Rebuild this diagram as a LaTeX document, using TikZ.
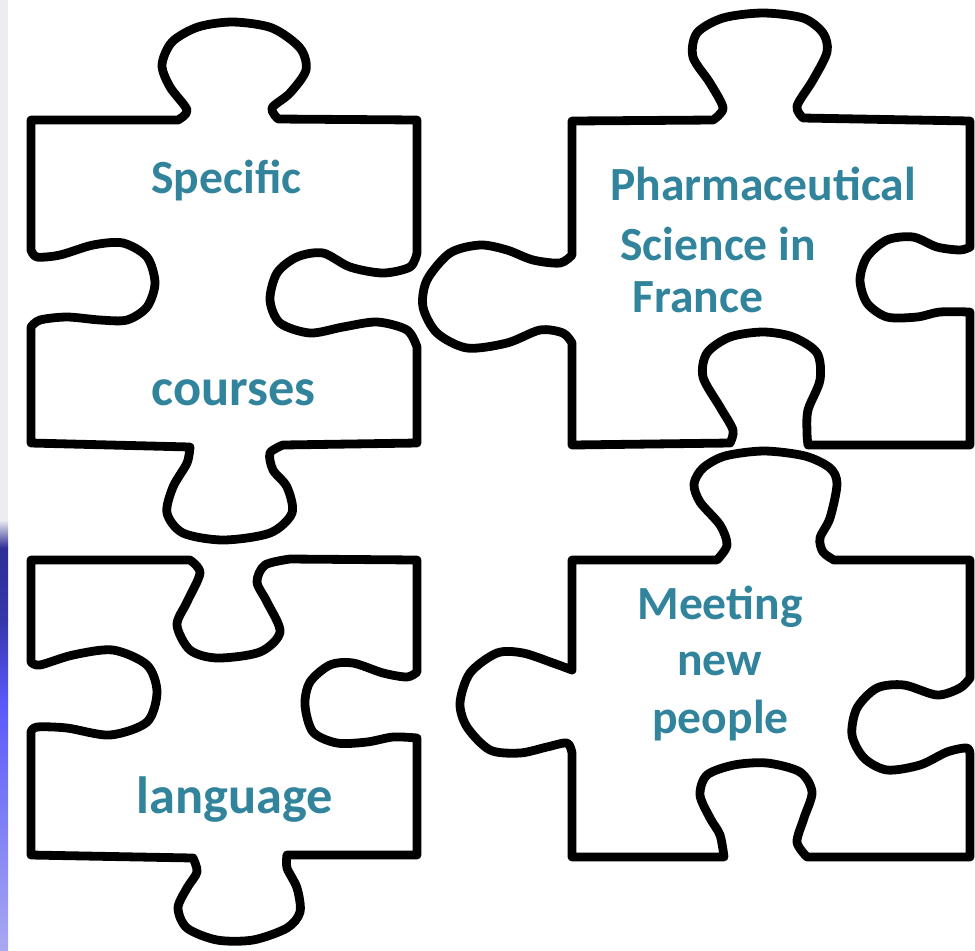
\documentclass[tikz,border=0pt]{standalone}
\usepackage{fontspec}
\setmainfont{Carlito}
\definecolor{txtteal}{RGB}{49,132,155}
\definecolor{stripgray}{RGB}{236,236,242}
\definecolor{navy}{RGB}{46,46,150}
\definecolor{brightblue}{RGB}{88,88,250}
\definecolor{paleblue}{RGB}{168,168,240}
\tikzset{
  piece/.style={draw=black, line width=4.4pt, line join=round, line cap=round},
  lbl/.style={anchor=base west, inner sep=0pt, text=txtteal, font=\bfseries\fontsize{23.8}{28}\selectfont},
  lblbig/.style={lbl, font=\bfseries\fontsize{26.2}{31}\selectfont}
}
\begin{document}
\begin{tikzpicture}[x=0.5pt, y=-0.5pt]
\useasboundingbox (0,0) rectangle (975,950);
\fill[white] (0,0) rectangle (975,950);
% left strip
\fill[stripgray] (0,0) rectangle (8,540);
\shade[top color=stripgray, bottom color=navy] (0,520) rectangle (8,548);
\shade[top color=navy, bottom color=navy!80!brightblue] (0,548) rectangle (8,620);
\shade[top color=navy!80!brightblue, bottom color=brightblue] (0,620) rectangle (8,700);
\shade[top color=brightblue, bottom color=paleblue] (0,700) rectangle (8,950);

% Piece 1 (top-left)
\draw[piece] (31,120) -- (178,120)
  -- plot[smooth] coordinates {(178,120) (187,110) (170,87) (162,65) (172,42) (198,27) (233,22) (272,28) (300,48) (306,70) (290,93) (272,108) (278,119)}
  -- (417,120) -- (417,253)
  -- plot[smooth] coordinates {(417,253) (410,267) (383,273) (350,267) (323,253) (297,257) (277,273) (270,300) (280,323) (310,333) (343,327) (377,322) (407,330) (417,347)}
  -- (417,443) -- (283,445)
  -- plot[smooth] coordinates {(283,445) (270,453) (273,470) (287,487) (292,513) (270,533) (223,540) (183,533) (167,513) (173,487) (187,463) (190,447)}
  -- (31,443) -- (31,327)
  -- plot[smooth] coordinates {(31,327) (40,320) (67,317) (100,320) (127,320) (147,307) (155,283) (147,257) (123,243) (93,245) (60,255) (37,257) (31,250)}
  -- cycle;

% Piece 2 (top-right)
\draw[piece] (572,121) -- (713,120)
  -- plot[smooth] coordinates {(713,120) (723,108) (710,83) (693,57) (697,33) (723,18) (763,13) (803,18) (823,33) (827,52) (813,80) (797,106) (803,118)}
  -- (970,121) -- (970,247)
  -- plot[smooth] coordinates {(970,247) (960,250) (937,247) (913,237) (887,240) (867,257) (860,280) (867,303) (887,317) (917,317) (940,312) (970,312)}
  -- (970,445) -- (808,445)
  -- plot[smooth] coordinates {(808,445) (807,433) (808,410) (820,380) (817,353) (793,337) (763,332) (730,337) (707,353) (703,377) (720,407) (733,430) (730,443)}
  -- (572,445) -- (572,343)
  -- plot[smooth] coordinates {(572,343) (563,333) (540,330) (507,343) (467,348) (437,333) (423,307) (427,280) (450,253) (480,245) (507,250) (533,260) (560,263) (572,255)}
  -- cycle;

% Piece 3 (bottom-left)
\draw[piece] (31,560) -- (190,560)
  -- plot[smooth] coordinates {(190,560) (200,573) (187,602) (177,625) (190,650) (217,658) (260,652) (280,632) (267,602) (257,582) (265,565) (290,559)}
  -- (417,560) -- (417,672)
  -- plot[smooth] coordinates {(417,672) (407,677) (383,673) (353,663) (330,665) (310,682) (305,705) (313,732) (337,743) (367,742) (393,737) (417,738)}
  -- (417,855) -- (287,855)
  -- plot[smooth] coordinates {(287,855) (287,868) (297,888) (300,912) (287,928) (253,940) (217,940) (187,928) (178,908) (187,888) (197,872) (193,858)}
  -- (31,855) -- (31,732)
  -- plot[smooth] coordinates {(31,732) (37,727) (67,728) (110,735) (147,722) (157,692) (147,665) (113,650) (73,655) (40,665) (31,662)}
  -- cycle;

% Piece 4 (bottom-right)
\draw[piece] (572,560) -- (717,560)
  -- plot[smooth] coordinates {(717,560) (727,545) (720,525) (700,502) (694,484) (703,468) (725,456) (764,451) (805,456) (830,468) (837,484) (830,518) (820,538) (823,552) (834,560)}
  -- (970,560) -- (970,678)
  -- plot[smooth] coordinates {(970,678) (960,688) (937,695) (904,685) (877,688) (857,708) (852,735) (864,758) (887,770) (920,765) (947,752) (967,748) (970,755)}
  -- (970,857) -- (807,857)
  -- plot[smooth] coordinates {(807,857) (797,842) (804,818) (812,792) (800,772) (767,763) (734,765) (707,775) (700,795) (710,818) (720,835) (724,857)}
  -- (572,857) -- (572,753)
  -- plot[smooth] coordinates {(572,753) (567,743) (547,747) (520,753) (490,750) (467,727) (460,703) (470,673) (497,653) (523,653) (553,663) (572,670)}
  -- cycle;

% Labels
\node[lbl] (specific) at (151,193) {Specific};
\node[lblbig] (courses) at (151,405) {courses};
\node[lbl] (pharma) at (610,200) {Pharmaceutical};
\node[lbl] (science) at (620,260) {Science in};
\node[lbl] (france) at (632,312) {France};
\node[lbl] (meeting) at (637,619) {Meeting};
\node[lbl] (new) at (677,675) {new};
\node[lbl] (people) at (652,733) {people};
\node[lblbig] (language) at (136,813) {language};
\end{tikzpicture}
\end{document}
